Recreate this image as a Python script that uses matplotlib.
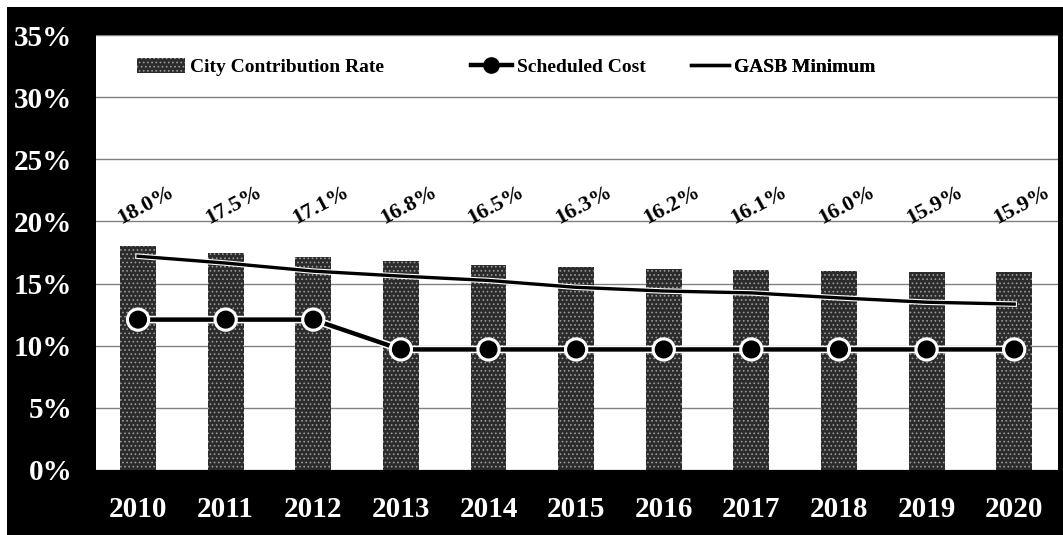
import matplotlib.pyplot as plt
import matplotlib.patheffects as pe
from matplotlib.patches import Rectangle
from matplotlib.lines import Line2D

plt.rcParams['font.family'] = ['Liberation Serif', 'DejaVu Serif']
plt.rcParams['font.weight'] = 'bold'
plt.rcParams['hatch.linewidth'] = 0.7

years = ['2010', '2011', '2012', '2013', '2014', '2015', '2016', '2017', '2018', '2019', '2020']
city_rate = [18.0, 17.5, 17.1, 16.8, 16.5, 16.3, 16.2, 16.1, 16.0, 15.9, 15.9]
scheduled_cost = [12.1, 12.1, 12.1, 9.7, 9.7, 9.7, 9.7, 9.7, 9.7, 9.7, 9.7]
gasb_minimum = [17.2, 16.65, 16.0, 15.6, 15.25, 14.7, 14.4, 14.25, 13.85, 13.5, 13.35]
y_ticks = [0, 5, 10, 15, 20, 25, 30, 35]

W, H = 1063, 535
fig = plt.figure(figsize=(W / 100, H / 100), dpi=100)
fig.patch.set_facecolor('white')
# black frame behind the plot area
fig.add_artist(Rectangle((7 / W, 0), 1 - 7 / W, 1 - 7 / H, transform=fig.transFigure,
                         facecolor='black', edgecolor='none', zorder=-5))

ax = fig.add_axes([96 / W, 65 / H, 962 / W, 435 / H])
ax.set_facecolor('white')

x = list(range(len(years)))
bar_style = dict(facecolor='#2b2b2b', edgecolor='#9a9a9a', hatch='....', linewidth=0)
ax.bar(x, city_rate, width=0.41, zorder=2, **bar_style)

halo = [pe.Stroke(linewidth=5.5, foreground='white'), pe.Normal()]
ax.plot(x, gasb_minimum, color='black', lw=2.4, zorder=3,
        path_effects=[pe.Stroke(linewidth=4, foreground='white'), pe.Normal()])
ax.plot(x, scheduled_cost, color='black', lw=3.2, marker='o', markersize=12,
        zorder=4, path_effects=halo)

for xi, v in zip(x, city_rate):
    ax.text(xi + 0.09, 21.3, f'{v:.1f}%', rotation=28, ha='center', va='center',
            fontsize=16, fontweight='bold', color='black', zorder=5)

ax.set_xlim(-0.48, 10.5)
ax.set_ylim(0, 35)
ax.set_yticks(y_ticks)
ax.set_yticklabels([f'{t}%' for t in y_ticks])
ax.set_xticks(x)
ax.set_xticklabels(years)
ax.tick_params(axis='y', length=0, pad=17, labelsize=21, labelcolor='white')
ax.tick_params(axis='x', length=0, pad=19, labelsize=21, labelcolor='white')
ax.yaxis.grid(True, color='#808080', lw=1.0, zorder=1)
ax.set_axisbelow(True)
for s in ax.spines.values():
    s.set_visible(False)

# legend entries placed one by one along the top
handles = [
    (Rectangle((0, 0), 1, 1, **bar_style), 'City Contribution Rate', 2.45, 137),
    (Line2D([], [], color='black', lw=3.2, marker='o', markersize=11), 'Scheduled Cost', 2.1, 471),
    (Line2D([], [], color='black', lw=2.4), 'GASB Minimum', 1.95, 691),
]
for h, lab, hl, px in handles:
    leg = ax.legend([h], [lab], loc='center left', frameon=False, fontsize=14,
                    handlelength=hl, handleheight=0.8, handletextpad=0.25,
                    borderpad=0, borderaxespad=0,
                    bbox_to_anchor=((px - 96) / 962, (470 - 67) / 435))
    ax.add_artist(leg)

fig.savefig('out.png', dpi=100)
